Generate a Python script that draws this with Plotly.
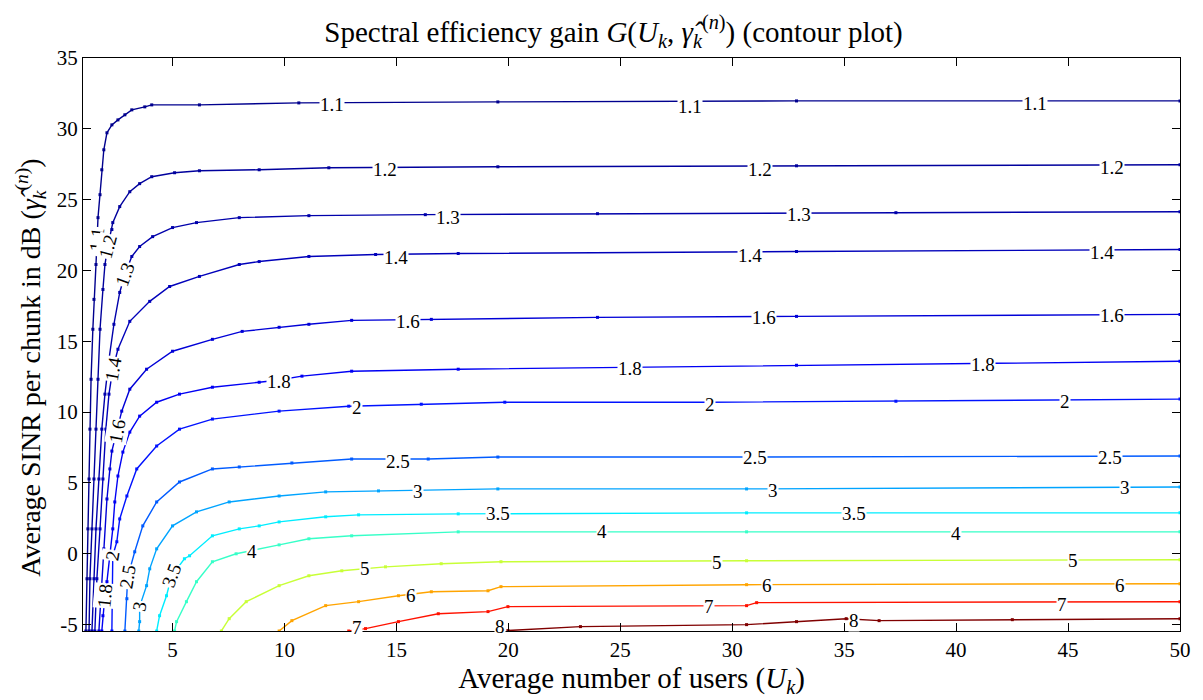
import plotly.graph_objects as go

# contour levels of the gain G
levels = [1.1, 1.2, 1.3, 1.4, 1.6, 1.8, 2, 2.5, 3, 3.5, 4, 5, 6, 7, 8]

# contour lines: x = average number of users, y = SINR (dB)
x_1_1 = [1.13, 1.18, 1.22, 1.27, 1.31, 1.36, 1.44, 1.49, 1.58, 1.67, 1.76, 1.84, 1.93, 2.07, 2.29, 2.56, 2.87, 3.18, 3.76, 4.07, 6.2, 10.64, 19.53, 32.87, 50]
y_1_1 = [-5.45, -1.76, 1.76, 5.28, 8.80, 12.32, 15.85, 17.96, 20.42, 23.73, 25.35, 27.11, 28.52, 29.72, 30.28, 30.63, 30.99, 31.34, 31.55, 31.69, 31.69, 31.83, 31.90, 31.97, 31.97]

x_1_2 = [1.27, 1.31, 1.40, 1.49, 1.58, 1.67, 1.76, 1.89, 1.98, 2.11, 2.29, 2.33, 2.64, 3.09, 3.53, 4.07, 5.09, 6.2, 8.87, 11.98, 19.53, 32.87, 50]
y_1_2 = [-5.45, -1.76, 1.76, 5.28, 8.80, 12.32, 15.85, 18.66, 20.42, 21.69, 22.89, 23.38, 24.51, 25.56, 26.13, 26.62, 26.90, 27.04, 27.11, 27.25, 27.32, 27.39, 27.46]

x_1_3 = [1.40, 1.49, 1.58, 1.71, 1.84, 1.98, 2.16, 2.38, 2.64, 2.87, 3.18, 3.53, 4.11, 5.0, 6.07, 7.98, 11.09, 16.29, 23.98, 37.31, 50]
y_1_3 = [-5.45, -1.76, 1.76, 5.28, 8.80, 11.27, 13.73, 16.20, 18.45, 19.72, 20.99, 21.69, 22.39, 23.03, 23.38, 23.73, 23.87, 23.94, 24.01, 24.08, 24.15]

x_1_4 = [1.53, 1.62, 1.76, 1.89, 2.02, 2.16, 2.33, 2.56, 3.09, 3.98, 4.87, 6.2, 7.98, 8.87, 11.09, 14.07, 17.76, 32.87, 50]
y_1_4 = [-5.45, -1.76, 1.76, 5.28, 8.80, 11.27, 13.03, 14.44, 16.41, 17.82, 18.87, 19.58, 20.42, 20.63, 20.99, 21.13, 21.20, 21.34, 21.48]

x_1_6 = [1.71, 1.80, 1.93, 2.07, 2.20, 2.29, 2.51, 2.73, 3.09, 3.84, 5.0, 6.78, 8.11, 9.76, 11.09, 13.0, 16.56, 23.98, 32.87, 50]
y_1_6 = [-5.45, -3.17, 0.35, 3.87, 5.99, 7.25, 8.66, 10.07, 11.62, 13.03, 14.30, 15.14, 15.70, 15.99, 16.20, 16.48, 16.55, 16.69, 16.76, 16.90]

x_1_8 = [1.84, 1.89, 1.98, 2.07, 2.2, 2.33, 2.42, 2.56, 2.78, 3.09, 3.53, 4.29, 5.31, 6.78, 8.87, 9.67, 10.78, 13.0, 17.76, 25.44, 32.87, 50]
y_1_8 = [-5.45, -4.37, -2.96, -1.97, -0.14, 1.76, 3.66, 5.49, 7.18, 8.59, 9.72, 10.70, 11.27, 11.76, 12.11, 12.25, 12.54, 12.89, 13.03, 13.17, 13.31, 13.59]

x_2 = [2.29, 2.33, 2.33, 2.51, 2.64, 2.96, 3.4, 4.29, 5.31, 6.78, 9.76, 12.87, 16.11, 19.84, 29.0, 37.31, 50]
y_2 = [-5.45, -2.46, -0.14, 0.85, 2.46, 4.08, 5.99, 7.61, 8.80, 9.51, 10.07, 10.42, 10.56, 10.70, 10.70, 10.77, 10.92]

x_2_5 = [2.87, 2.96, 3.0, 3.31, 3.67, 4.29, 5.31, 6.78, 7.98, 10.33, 13.0, 16.42, 19.53, 30.64, 50]
y_2_5 = [-5.45, -3.17, -1.62, 0.14, 1.97, 3.66, 5.07, 5.99, 6.13, 6.41, 6.69, 6.69, 6.83, 6.83, 6.90]

x_3 = [3.49, 3.53, 3.53, 3.84, 3.98, 4.29, 5.0, 6.07, 7.53, 9.76, 11.84, 14.2, 19.53, 30.64, 50]
y_3 = [-5.45, -4.79, -3.73, -2.25, -1.06, 0.35, 1.97, 2.96, 3.66, 4.08, 4.37, 4.44, 4.58, 4.58, 4.72]

x_3_5 = [4.29, 4.42, 4.73, 4.96, 5.53, 5.76, 6.78, 7.98, 8.87, 9.76, 11.84, 13.31, 17.76, 30.64, 50]
y_3_5 = [-5.45, -4.37, -2.96, -1.55, -0.35, -0.14, 1.27, 1.76, 1.97, 2.25, 2.61, 2.75, 2.82, 2.89, 2.89]

x_4 = [5.09, 5.18, 5.62, 6.07, 6.78, 7.84, 9.76, 11.09, 13.0, 17.76, 30.64, 50]
y_4 = [-5.45, -4.79, -3.38, -1.97, -0.56, 0.0, 0.63, 1.06, 1.27, 1.55, 1.55, 1.55]

x_5 = [7.18, 7.53, 8.29, 9.76, 11.09, 12.56, 14.51, 17.0, 19.67, 30.64, 50]
y_5 = [-5.45, -4.58, -3.38, -2.25, -1.55, -1.20, -0.92, -0.70, -0.56, -0.49, -0.42]

x_6 = [9.76, 10.33, 11.84, 13.31, 15.09, 16.56, 19.09, 19.67, 30.64, 50]
y_6 = [-5.45, -4.72, -3.66, -3.38, -2.96, -2.68, -2.61, -2.32, -2.18, -2.11]

x_7 = [12.87, 13.62, 15.09, 16.87, 19.09, 19.98, 30.64, 31.09, 50]
y_7 = [-5.45, -5.28, -4.79, -4.23, -4.08, -3.73, -3.66, -3.45, -3.38]

x_8 = [19.98, 23.22, 30.64, 32.87, 35.09, 36.56, 42.51, 50]
y_8 = [-5.42, -5.14, -5.0, -4.79, -4.58, -4.72, -4.65, -4.58]

curve_x = [x_1_1, x_1_2, x_1_3, x_1_4, x_1_6, x_1_8, x_2, x_2_5, x_3, x_3_5, x_4, x_5, x_6, x_7, x_8]
curve_y = [y_1_1, y_1_2, y_1_3, y_1_4, y_1_6, y_1_8, y_2, y_2_5, y_3, y_3_5, y_4, y_5, y_6, y_7, y_8]

# inline contour labels (level, x, y, rotation)
lab_level = [1.1, 1.1, 1.1, 1.1,
             1.2, 1.2, 1.2, 1.2,
             1.3, 1.3, 1.3,
             1.4, 1.4, 1.4, 1.4,
             1.6, 1.6, 1.6, 1.6,
             1.8, 1.8, 1.8, 1.8,
             2, 2, 2, 2,
             2.5, 2.5, 2.5, 2.5,
             3, 3, 3, 3,
             3.5, 3.5, 3.5,
             4, 4, 4,
             5, 5, 5,
             6, 6, 6,
             7, 7, 7,
             8, 8]
lab_x = [1.62, 12.11, 28.11, 43.53,
         2.11, 14.47, 31.22, 46.96,
         2.87, 17.31, 33.0,
         2.33, 14.96, 30.78, 46.51,
         2.51, 15.53, 31.4, 46.96,
         1.98, 9.76, 25.44, 41.22,
         2.33, 13.22, 29.0, 44.87,
         3.0, 15.09, 31.0, 46.87,
         3.53, 15.98, 31.84, 47.53,
         4.96, 19.53, 35.44,
         8.56, 24.2, 39.98,
         13.58, 29.31, 45.22,
         15.67, 31.53, 47.31,
         13.22, 28.96, 44.73,
         19.62, 35.44]
lab_y = [22.18, 31.69, 31.55, 31.76,
         21.69, 27.11, 27.11, 27.25,
         19.72, 23.73, 23.94,
         13.03, 20.92, 21.06, 21.27,
         8.66, 16.41, 16.69, 16.83,
         -2.96, 12.18, 13.10, 13.38,
         -0.14, 10.35, 10.56, 10.77,
         -1.62, 6.55, 6.83, 6.83,
         -3.73, 4.37, 4.44, 4.65,
         -1.55, 2.82, 2.82,
         0.14, 1.55, 1.41,
         -1.06, -0.63, -0.49,
         -2.96, -2.25, -2.25,
         -5.2, -3.73, -3.59,
         -5.15, -4.72]
lab_angle = [-85, 0, 0, 0,
             -75, 0, 0, 0,
             -70, 0, 0,
             -80, 0, 0, 0,
             -80, 0, 0, 0,
             -85, 0, 0, 0,
             -80, 0, 0, 0,
             -80, 0, 0, 0,
             -80, 0, 0, 0,
             -70, 0, 0,
             0, 0, 0,
             0, 0, 0,
             0, 0, 0,
             0, 0, 0,
             0, 0]

x_ticks = [5, 10, 15, 20, 25, 30, 35, 40, 45, 50]
y_ticks = [-5, 0, 5, 10, 15, 20, 25, 30, 35]


def jet(level, lo=1.0, hi=8.0):
    t = (level - lo) / (hi - lo)

    def c(v):
        return max(0.0, min(1.0, v))
    r = c(1.5 - abs(4 * t - 3))
    g = c(1.5 - abs(4 * t - 2))
    b = c(1.5 - abs(4 * t - 1))
    return "rgb(%d,%d,%d)" % (round(r * 255), round(g * 255), round(b * 255))


def fmt(v):
    return "%g" % v


FONT = "'Liberation Serif', 'Times New Roman', serif"

fig = go.Figure()
for lev, xs, ys in zip(levels, curve_x, curve_y):
    col = jet(lev)
    fig.add_trace(go.Scatter(
        x=xs, y=ys, mode="lines+markers",
        line=dict(color=col, width=1.4),
        marker=dict(color=col, size=3, symbol="square"),
        name=fmt(lev), showlegend=False, hoverinfo="skip",
    ))

for lev, lx, ly, ang in zip(lab_level, lab_x, lab_y, lab_angle):
    fig.add_annotation(
        x=lx, y=ly, xref="x", yref="y", text=fmt(lev), showarrow=False,
        textangle=ang, font=dict(family=FONT, size=19, color="black"),
        bgcolor="white", borderpad=0,
    )

# y-axis title placed as a rotated annotation, centred like the reference
fig.add_annotation(
    x=-0.048, y=0.46, xref="paper", yref="paper",
    text="Average SINR per chunk in dB (<i>γ̂</i><sub><i>k</i></sub><sup>(<i>n</i>)</sup>)",
    showarrow=False, textangle=-90, xanchor="center", yanchor="middle",
    font=dict(family=FONT, size=28, color="black"),
)

fig.update_layout(
    width=1203, height=700,
    margin=dict(l=83, r=16, t=58, b=67),
    paper_bgcolor="white", plot_bgcolor="white",
    showlegend=False,
    font=dict(family=FONT, color="black"),
    title=dict(
        text="Spectral efficiency gain <i>G</i>(<i>U<sub>k</sub></i>, <i>γ̂</i><sub><i>k</i></sub><sup>(<i>n</i>)</sup>) (contour plot)",
        x=0.51, xanchor="center", y=0.955, yanchor="middle", yref="container",
        font=dict(family=FONT, size=29, color="black"),
    ),
    xaxis=dict(
        range=[1, 50], tickvals=x_ticks, ticktext=[str(v) for v in x_ticks],
        ticks="inside", ticklen=8, tickcolor="black", mirror="ticks",
        showline=True, linecolor="black", linewidth=1,
        showgrid=False, zeroline=False,
        tickfont=dict(family=FONT, size=21, color="black"),
        title=dict(text="Average number of users (<i>U<sub>k</sub></i>)",
                   font=dict(family=FONT, size=29, color="black"), standoff=5),
    ),
    yaxis=dict(
        range=[-5.45, 35], tickvals=y_ticks, ticktext=[str(v) for v in y_ticks],
        ticks="inside", ticklen=8, tickcolor="black", mirror="ticks",
        showline=True, linecolor="black", linewidth=1,
        showgrid=False, zeroline=False,
        tickfont=dict(family=FONT, size=21, color="black"),
    ),
)

fig.write_html("out.html")
